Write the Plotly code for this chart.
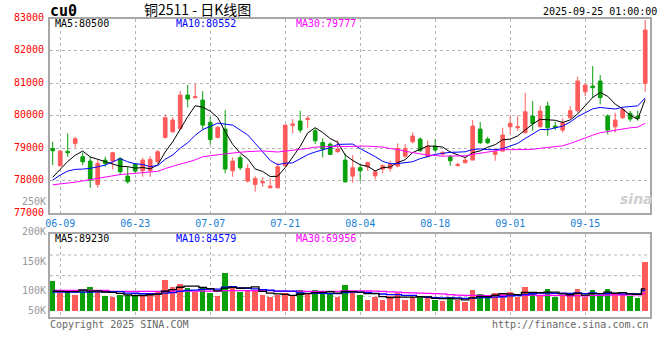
import plotly.graph_objects as go
import pandas as pd

# ---------------- data ----------------
dates = pd.bdate_range("2025-06-06", "2025-09-25")          # 80 trading days
date_labels = [d.strftime("%m-%d") for d in dates]
tick_dates = ["06-09", "06-23", "07-07", "07-21", "08-04", "08-18", "09-01", "09-15"]

opens = [78992, 78457, 78900, 79146, 78735, 78601, 77881, 78632, 78601, 78683,
         78138, 78508, 78303, 78303, 78580, 79332, 79506, 79609, 80638, 80556,
         80484, 79795, 79332, 79589, 78303, 78704, 77984, 77881, 77932, 77778,
         77778, 78457, 79702, 79836, 79887, 79537, 79177, 79126, 78889, 78632,
         78138, 78395, 78426, 78148, 78354, 78375, 78447, 78755, 79198, 79280,
         78735, 79064, 78817, 78735, 78467, 78550, 78632, 79589, 79280, 78807,
         78910, 79661, 79630, 79476, 79990, 79661, 80299, 79681, 79558, 79939,
         80155, 80741, 80916, 81071, 79990, 79661, 79939, 80072, 79990, 80999]
highs = [79198, 78941, 79455, 79352, 78869, 78735, 78632, 78735, 78889, 78714,
         78426, 78529, 78704, 78755, 78941, 80042, 79949, 80772, 80947, 80999,
         80762, 79970, 79681, 80175, 78714, 78786, 78508, 78138, 78097, 78066,
         78550, 79712, 79898, 80155, 80000, 79609, 79301, 79177, 79249, 78838,
         78786, 78508, 78580, 78303, 78498, 78611, 79146, 79126, 79486, 79332,
         79229, 79280, 78910, 78786, 78550, 78735, 79867, 79805, 79352, 78992,
         79630, 79990, 80000, 80711, 80453, 80309, 80433, 79815, 79918, 80299,
         81204, 80978, 81534, 81256, 80042, 80093, 80258, 80144, 80155, 82954]
lows = [78478, 78426, 78735, 79013, 78478, 77778, 77778, 78426, 78344, 78169,
        77912, 78221, 78117, 78117, 78529, 79301, 79476, 79558, 80258, 80540,
        79578, 79105, 79301, 78221, 78117, 78323, 77942, 77654, 77809, 77757,
        77757, 78426, 79455, 79476, 79630, 79126, 78714, 78786, 78869, 77932,
        77932, 77984, 78303, 78035, 78221, 78272, 78406, 78704, 79146, 78889,
        78735, 78889, 78755, 78457, 78426, 78529, 78632, 79126, 79126, 78611,
        78889, 79435, 79537, 79455, 79537, 79640, 79383, 79558, 79486, 79898,
        80093, 80607, 80556, 80350, 79424, 79486, 79898, 79815, 79846, 80741]
closes = [78920, 78910, 78858, 79290, 78580, 78014, 78529, 78529, 78858, 78272,
          77963, 78293, 78632, 78652, 78889, 79939, 79867, 80638, 80515, 80587,
          79712, 79270, 79640, 78354, 78601, 78395, 78375, 78066, 77963, 77829,
          78426, 79712, 79743, 79558, 79918, 79229, 78971, 78807, 78971, 77963,
          78395, 78303, 78560, 78272, 78457, 78508, 78992, 78992, 79373, 78920,
          79064, 78941, 78869, 78611, 78498, 78632, 79681, 79167, 79167, 78889,
          79404, 79764, 79661, 80124, 79764, 80144, 79630, 79640, 79784, 80155,
          81071, 80947, 80865, 80556, 79558, 79867, 80196, 79898, 79918, 82645]
volumes = [121800, 72600, 80800, 64400, 84900, 97200, 76700, 60300, 56200, 65600,
           65600, 64400, 60300, 71300, 76700, 125900, 97200, 109500, 94300, 77900,
           97200, 73800, 61500, 154600, 93100, 77900, 80800, 80800, 63100, 56200,
           64400, 71300, 60300, 84900, 71300, 84900, 73800, 73800, 56200, 105400,
           82000, 63100, 43900, 56200, 45100, 60300, 72600, 45100, 54900, 54900,
           54900, 43900, 41000, 57400, 43900, 36900, 84900, 68500, 53300, 73800,
           68500, 76700, 57400, 97200, 77900, 61500, 89000, 54900, 60300, 61500,
           89000, 54900, 84900, 61500, 89000, 67200, 67200, 60300, 53300, 200900]

# moving-average values at the start of the window (read from the chart,
# they depend on sessions before the first bar shown)
ma5_head = [78100, 78360, 78590, 78780]
ma10_head = [78015, 78170, 78293, 78346, 78355, 78376, 78426, 78478, 78580]
ma30_head = [77870, 77890, 77920, 77950, 77990, 78030, 78070, 78110, 78150, 78185,
             78205, 78225, 78245, 78265, 78285, 78370, 78450, 78510, 78570, 78640,
             78735, 78775, 78795, 78825, 78855, 78875, 78895, 78905, 78915]
vma5_head = [80800, 79500, 78000, 78000]
vma10_head = [76000, 76000, 76500, 76500, 76000, 76500, 77000, 77500, 78000]
vma30_head = [83500] * 8 + [79000] * 7 + [80500] * 8 + [82000] * 6


def moving_average(values, n, head):
    s = pd.Series(values, dtype=float).rolling(n).mean().tolist()
    return list(head) + s[len(head):]


ma5 = moving_average(closes, 5, ma5_head)
ma10 = moving_average(closes, 10, ma10_head)
ma30 = moving_average(closes, 30, ma30_head)
vma5 = moving_average(volumes, 5, vma5_head)
vma10 = moving_average(volumes, 10, vma10_head)
vma30 = moving_average(volumes, 30, vma30_head)

# ---------------- style ----------------
RED = "#ff5b5b"
GREEN = "#0aa00a"
GRID = "#b4b4b4"
FRAME = "#a8a8a8"
MONO = "DejaVu Sans Mono"
W, H = 660, 360
ML, MR, MT, MB = 50, 10, 18, 43
PH = H - MT - MB


def px(x):
    return (x - ML) / (W - ML - MR)


def py(y):
    return (H - MB - y) / PH


idx = list(range(len(dates)))
tickvals = [date_labels.index(d) for d in tick_dates]
vol_colors = [RED if c >= o else GREEN for o, c in zip(opens, closes)]

fig = go.Figure()
fig.add_trace(go.Candlestick(
    x=idx, open=opens, high=highs, low=lows, close=closes,
    increasing=dict(line=dict(color=RED, width=1), fillcolor=RED),
    decreasing=dict(line=dict(color=GREEN, width=1), fillcolor=GREEN),
    xaxis="x", yaxis="y", showlegend=False, hoverinfo="skip"))
for vals, col in [(ma5, "#000000"), (ma10, "#0000ff"), (ma30, "#ff00ff")]:
    fig.add_trace(go.Scatter(x=idx, y=vals, mode="lines", line=dict(color=col, width=1),
                             xaxis="x", yaxis="y", showlegend=False, hoverinfo="skip"))

fig.add_trace(go.Bar(x=idx, y=volumes, marker=dict(color=vol_colors, line=dict(width=0)),
                     width=0.74, xaxis="x2", yaxis="y2", showlegend=False, hoverinfo="skip"))
for vals, col in [(vma30, "#ff00ff"), (vma10, "#0000ff"), (vma5, "#000000")]:
    fig.add_trace(go.Scatter(x=idx, y=vals, mode="lines", line=dict(color=col, width=1.3, shape="hvh"),
                             xaxis="x2", yaxis="y2", showlegend=False, hoverinfo="skip"))

axis_common = dict(showline=True, mirror=True, linecolor=FRAME, linewidth=2,
                   zeroline=False, ticks="", automargin=False)
fig.update_layout(
    width=W, height=H,
    margin=dict(l=ML, r=MR, t=MT, b=MB, pad=0),
    paper_bgcolor="white", plot_bgcolor="white",
    boxgap=0.3,
    bargap=0,
    font=dict(family=MONO, size=10, color="#000000"),
    xaxis=dict(domain=[0, 1], anchor="y", range=[-0.36, 79.64],
               tickvals=tickvals, ticktext=tick_dates,
               tickfont=dict(family=MONO, size=10, color="#1a7fd4"),
               showgrid=True, gridcolor=GRID, griddash="dot", gridwidth=1,
               rangeslider=dict(visible=False), **axis_common),
    yaxis=dict(domain=[py(213), py(18.5)], anchor="x", range=[77000, 83000],
               tickvals=[77000, 78000, 79000, 80000, 81000, 82000, 83000],
               ticktext=["77000", "78000", "79000", "80000", "81000", "82000", "83000"],
               tickfont=dict(family=MONO, size=10, color="#ff0000"),
               ticklabelshift=-1, ticklabelstandoff=2,
               showgrid=True, gridcolor=GRID, griddash="dot", gridwidth=1, **axis_common),
    xaxis2=dict(domain=[0, 1], anchor="y2", matches="x", range=[-0.36, 79.64],
                tickvals=tickvals, showticklabels=False,
                showgrid=True, gridcolor=GRID, griddash="dot", gridwidth=1, **axis_common),
    yaxis2=dict(domain=[0, py(234.3)], anchor="x2", range=[-25800, 313300],
                showticklabels=False, showgrid=False, **axis_common),
)

# horizontal grid of the volume panel (quarters of the frame)
for f in (0.25, 0.5, 0.75):
    fig.add_shape(type="line", xref="x2 domain", yref="y2 domain", x0=0, x1=1, y0=f, y1=f,
                  line=dict(color=GRID, width=1, dash="dot"), layer="below")


def note(text, x, y, color="#000000", size=10, anchor="left", family=MONO, **kw):
    fig.add_annotation(text=text, x=px(x), y=py(y), xref="paper", yref="paper",
                       xanchor=anchor, yanchor="middle", showarrow=False,
                       borderpad=0,
                       font=dict(family=family, size=size, color=color, **kw))


# header row
note("<b>cu0</b>", 49, 11, size=15)
note("铜2511 - 日K线图", 197, 9, size=14, anchor="center", family="Noto Sans CJK SC")
note("2025-09-25 01:00:00", 658, 11, anchor="right")

# main panel legend
note("MA5:80500", 54, 24, color="#000000")
note("MA10:80552", 175, 24, color="#0000ff")
note("MA30:79777", 295, 24, color="#ff00ff")
note("250K", 47, 201, color="#999999", anchor="right")

# volume panel legend and scale labels
note("MA5:89230", 54, 239, color="#000000")
note("MA10:84579", 175, 239, color="#0000ff")
note("MA30:69956", 295, 239, color="#ff00ff")
for lab, yy in [("200K", 231), ("150K", 261), ("100K", 290), ("50K", 310)]:
    note(lab, 47, yy, color="#999999", anchor="right")

# footer
note("Copyright 2025 SINA.COM", 49, 324, color="#666666")
note("http://finance.sina.com.cn", 650, 324, color="#666666", anchor="right")

# watermark
note("<b><i>sina</i></b>", 636, 199, color="#cfcfcf", size=14, anchor="center", family="DejaVu Sans")

fig.write_html("out.html",
               config={"displayModeBar": False, "staticPlot": True},
               post_script="document.body.style.margin='0';document.body.style.padding='0';"
                           "document.body.style.overflow='hidden';")
